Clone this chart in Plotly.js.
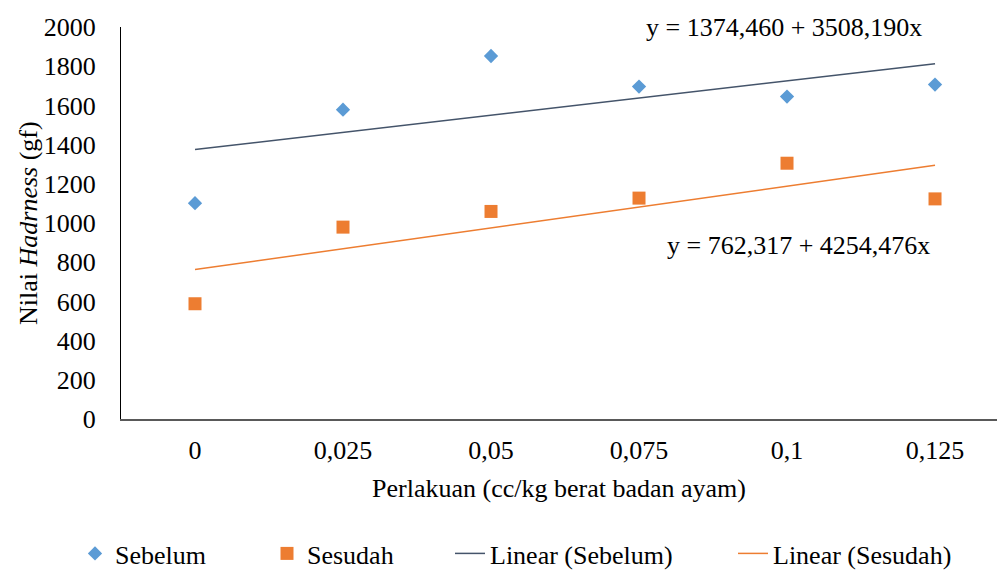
<!DOCTYPE html>
<html>
<head>
<meta charset="utf-8">
<script src="https://cdn.plot.ly/plotly-3.0.1.min.js"></script>
<style>html,body{margin:0;padding:0;overflow:hidden;background:#fff}</style>
</head>
<body>
<div id="chart" style="width:998px;height:570px"></div>
<script>
const kategori = [0, 0.025, 0.05, 0.075, 0.1, 0.125];
const labelX = ['0', '0,025', '0,05', '0,075', '0,1', '0,125'];
const sebelum = [1101, 1578, 1852, 1696, 1645, 1706];
const sesudah = [588, 979, 1059, 1127, 1305, 1123];
const trendX = [0, 0.125];
const trendSebelum = [1374.46, 1813.0];
const trendSesudah = [762.3, 1294.1];
const yTicks = [0, 200, 400, 600, 800, 1000, 1200, 1400, 1600, 1800, 2000];
const eqSebelum = 'y = 1374,460 + 3508,190x';
const eqSesudah = 'y = 762,317 + 4254,476x';

const F = 'Liberation Serif, Times New Roman, serif';
const txt = {family: F, size: 26, color: '#000'};
const traces = [
  {x: kategori, y: sebelum, type: 'scatter', mode: 'markers', name: 'Sebelum', legend: 'legend',
   marker: {symbol: 'diamond', size: 11, color: '#5B9BD5'}},
  {x: kategori, y: sesudah, type: 'scatter', mode: 'markers', name: 'Sesudah', legend: 'legend2',
   marker: {symbol: 'square', size: 13, color: '#ED7D31'}},
  {x: trendX, y: trendSebelum, type: 'scatter', mode: 'lines', name: 'Linear (Sebelum)', legend: 'legend3',
   line: {color: '#44546A', width: 1.5}},
  {x: trendX, y: trendSesudah, type: 'scatter', mode: 'lines', name: 'Linear (Sesudah)', legend: 'legend4',
   line: {color: '#ED7D31', width: 1.5}}
];
function leg(xpx) {
  return {orientation: 'h', xref: 'container', yref: 'paper', x: xpx / 998, xanchor: 'left',
          y: (418.5 - 553) / 392, yanchor: 'middle', font: txt, bgcolor: 'rgba(0,0,0,0)', borderwidth: 0};
}
const layout = {
  width: 998, height: 570,
  margin: {l: 121, r: 1, t: 27, b: 151, pad: 0, autoexpand: false},
  paper_bgcolor: '#fff', plot_bgcolor: '#fff',
  font: txt,
  showlegend: true,
  legend: leg(75), legend2: leg(267), legend3: leg(450), legend4: leg(733),
  xaxis: {range: [-0.0125, 0.13547], tickvals: kategori, ticktext: labelX,
          showgrid: false, zeroline: false, showline: true, linecolor: '#595959', linewidth: 2,
          ticks: '', ticklabelstandoff: 7, tickfont: txt,
          title: {text: 'Perlakuan (cc/kg berat badan ayam)', font: txt, standoff: 15}},
  yaxis: {range: [0, 2000], tickvals: yTicks, showgrid: false, zeroline: false,
          showline: true, linecolor: '#000', linewidth: 1, ticks: '', ticklabelstandoff: 19,
          tickfont: txt},
  annotations: [
    {text: 'Nilai <i>Hadrness</i> (gf)', xref: 'paper', yref: 'paper', x: (28 - 121) / 876, y: 0.5,
     xanchor: 'center', yanchor: 'middle', textangle: -90, showarrow: false, font: txt},
    {text: eqSebelum, xref: 'paper', yref: 'paper', x: 0.757, y: 0.999, xanchor: 'center', yanchor: 'middle', showarrow: false, font: txt},
    {text: eqSesudah, xref: 'paper', yref: 'paper', x: 0.773, y: 0.4426, xanchor: 'center', yanchor: 'middle', showarrow: false, font: txt}
  ]
};
Plotly.newPlot('chart', traces, layout, {displayModeBar: false, staticPlot: true});
</script>
</body>
</html>
